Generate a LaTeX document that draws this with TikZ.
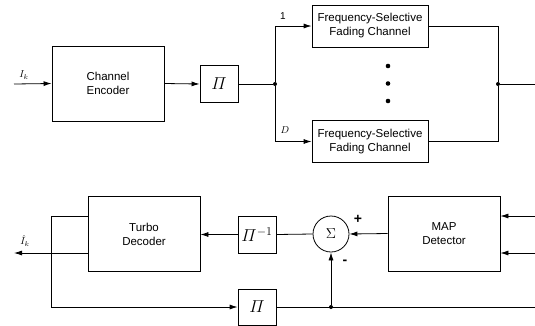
\documentclass[tikz,border=0pt]{standalone}
\usepackage{amsmath}
\usepackage{fontspec}
\setmainfont{Liberation Sans}
\usetikzlibrary{arrows.meta,positioning,calc}

\begin{document}
\begin{tikzpicture}[x=1pt,y=-1pt,font=\fontsize{11.5}{14}\selectfont,line width=0.8pt,
          bloque/.style={draw,minimum width=112pt,minimum height=75pt,align=center,inner sep=0pt},
          canal/.style={draw,minimum width=116pt,minimum height=42pt,align=center,inner sep=0pt},
          perm/.style={draw,minimum width=38pt,minimum height=37pt,inner sep=0pt,font=\fontsize{17}{17}\selectfont},
          etiq/.style={font=\fontsize{10}{10}\selectfont,inner sep=1pt},
          flecha/.style={-{Latex[length=8pt,width=5pt]}},
          punto/.style={circle,fill,inner sep=0pt,minimum size=4pt}]
        \useasboundingbox (0,0) rectangle (535,325);
        % transmitter
        \node[bloque] (enc) at (108,83.5) {Channel\\Encoder};
        \node[perm] (pi1) at (219,84) {$\varPi$};
        \node[canal] (ch1) at (370,26) {Frequency-Selective\\Fading Channel};
        \node[canal] (chD) at (370,141.5) {Frequency-Selective\\Fading Channel};
        \coordinate (in) at (14,84);
        \node[punto] (split) at (275,84) {};
        \node[punto] (merge) at (498,84) {};
        \coordinate (out) at (535,84);
        \draw[flecha] (in) -- (enc.west);
        \draw[flecha] (enc.east) -- (pi1.west);
        \draw (pi1.east) -- (split);
        \draw[flecha] (split) |- (ch1.west);
        \draw[flecha] (split) |- (chD.west);
        \draw (ch1.east) -| (merge);
        \draw (chD.east) -| (merge);
        \draw (merge) -- (out);
        \node[etiq] (lin) at (24,75) {$I_k$};
        \node[etiq] (luno) at (283,16) {1};
        \node[etiq] (lD) at (285,130) {$D$};
        \foreach \y in {66,83.5,101}
          \fill (388,\y) circle (2.3pt);
        % receiver
        \node[bloque] (dec) at (144,234) {Turbo\\Decoder};
        \node[perm] (pinv) at (257,234.5) {$\varPi^{-1}$};
        \node[draw,circle,minimum size=36pt,inner sep=0pt,font=\Large] (sum) at (331,234) {$\Sigma$};
        \node[bloque] (map) at (444,233.5) {MAP\\Detector};
        \node[perm,minimum height=36pt] (pi2) at (257,307) {$\varPi$};
        \coordinate (r1) at (535,216);
        \coordinate (r2) at (535,253);
        \coordinate (est) at (14,253);
        \coordinate (lane) at (51,216);
        \coordinate (fin) at (535,307);
        \node[punto] (tap) at (331,307) {};
        \draw[flecha] (r1) -- (map.east|-r1);
        \draw[flecha] (r2) -- (map.east|-r2);
        \draw[flecha] (map.west) -- (sum.east);
        \draw (pinv.east) -- (sum.west);
        \draw[flecha] (pinv.west) -- (dec.east|-pinv.west);
        \draw[flecha] (dec.west|-est) -- (est);
        \draw (dec.west|-lane) -- (lane);
        \draw[flecha] (lane) |- (pi2.west);
        \draw (pi2.east) -- (fin);
        \draw[flecha] (tap) -- (sum.south);
        \node[etiq] (lest) at (25,241) {$\hat{I}_k$};
        \node[font=\fontsize{14}{14}\selectfont\bfseries] (lmas) at (358,219) {+};
        \node[font=\fontsize{14}{14}\selectfont\bfseries] (lmenos) at (345,262) {-};
      \end{tikzpicture}
\end{document}
